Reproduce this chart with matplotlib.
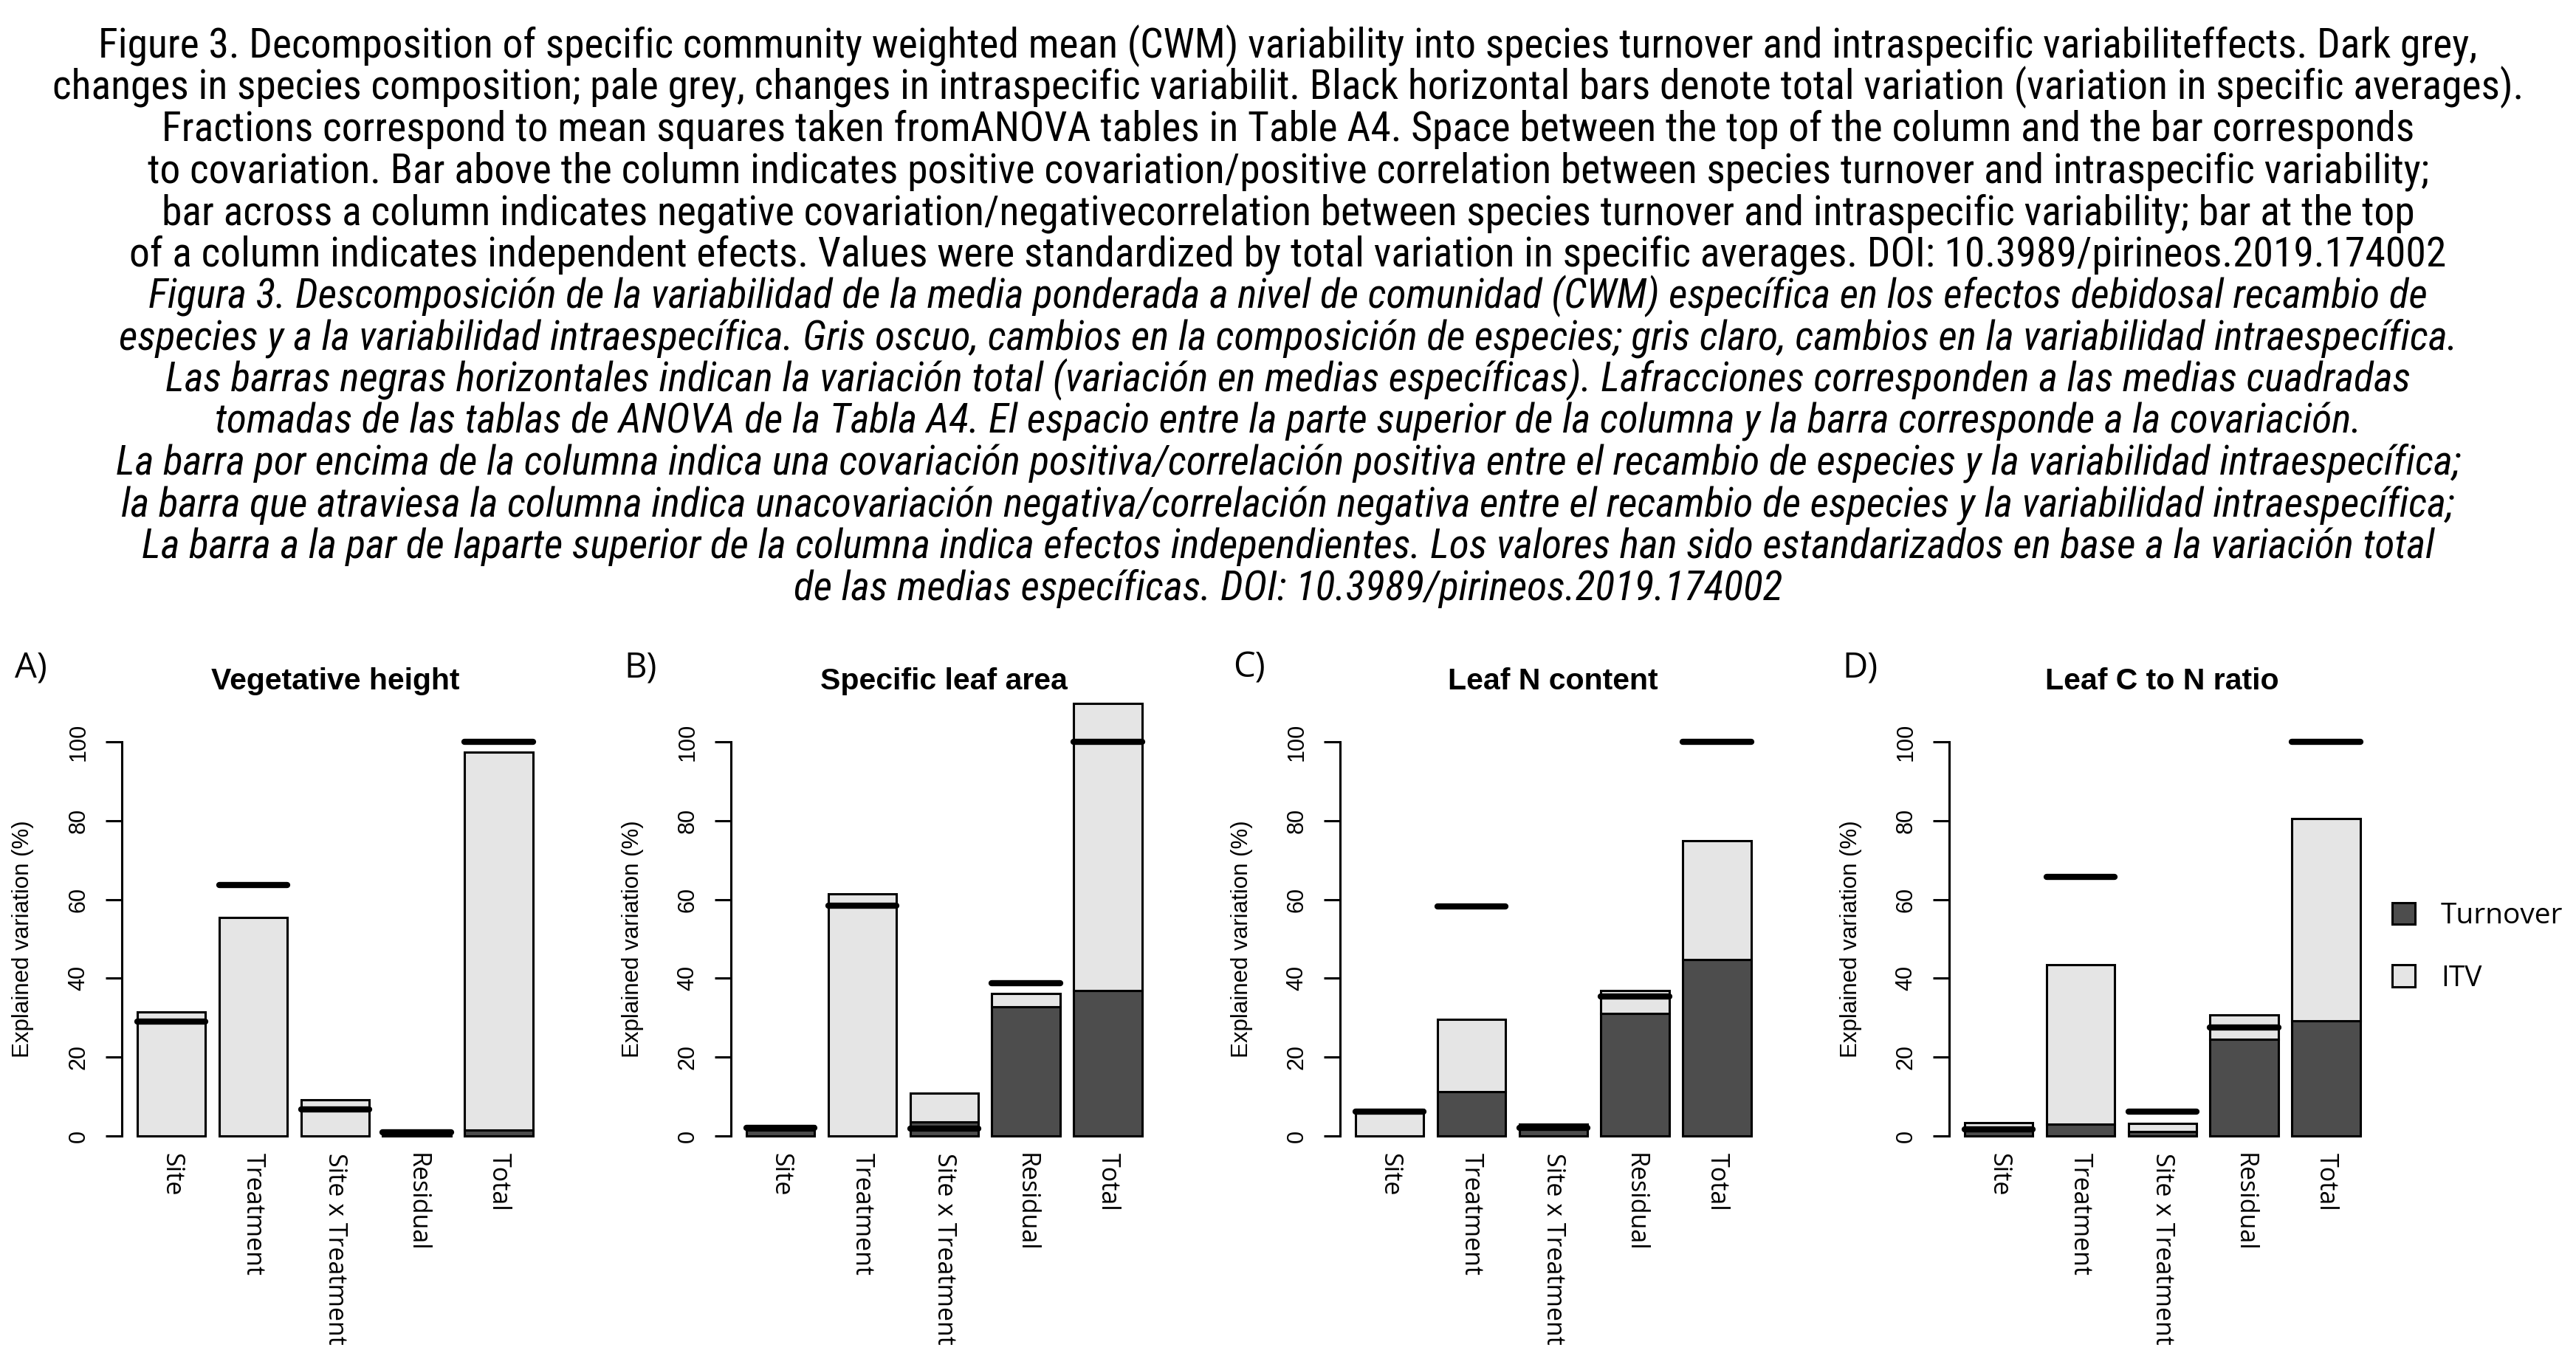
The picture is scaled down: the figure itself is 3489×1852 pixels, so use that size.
import numpy as np
import matplotlib
matplotlib.use("Agg")
import matplotlib.pyplot as plt
from matplotlib.patches import Patch
from matplotlib import font_manager as fm

W, H, DPI = 3489, 1852, 100

# ── DATA (% of total variation) ──────────────────────────────
categories = ["Site", "Treatment", "Site x Treatment", "Residual", "Total"]
titles = ["Vegetative height", "Specific leaf area", "Leaf N content", "Leaf C to N ratio"]
letters = ["A)", "B)", "C)", "D)"]

height_turnover = [0.0, 0.0, 0.0, 0.8, 1.5]
height_itv      = [31.5, 55.5, 9.1, 0.5, 95.8]
height_total    = [29.0, 63.7, 6.7, 1.0, 100.0]

sla_turnover = [1.5, 0.0, 3.5, 32.8, 36.8]
sla_itv      = [1.1, 61.5, 7.4, 3.3, 72.9]
sla_total    = [2.0, 58.5, 1.8, 38.7, 100.0]

leafn_turnover = [0.0, 11.2, 1.8, 31.0, 44.7]
leafn_itv      = [6.7, 18.4, 1.2, 5.9, 30.1]
leafn_total    = [6.2, 58.3, 2.0, 35.4, 100.0]

cn_turnover = [1.3, 3.0, 1.2, 24.5, 29.2]
cn_itv      = [2.0, 40.4, 2.0, 6.3, 51.3]
cn_total    = [1.6, 65.7, 6.2, 27.5, 100.0]

panels = [
    (height_turnover, height_itv, height_total),
    (sla_turnover, sla_itv, sla_total),
    (leafn_turnover, leafn_itv, leafn_total),
    (cn_turnover, cn_itv, cn_total),
]

caption = [
    "Figure 3. Decomposition of specific community weighted mean (CWM) variability into species turnover and intraspecific variabiliteffects. Dark grey,",
    "changes in species composition; pale grey, changes in intraspecific variabilit. Black horizontal bars denote total variation (variation in specific averages).",
    "Fractions correspond to mean squares taken fromANOVA tables in Table A4. Space between the top of the column and the bar corresponds",
    "to covariation. Bar above the column indicates positive covariation/positive correlation between species turnover and intraspecific variability;",
    "bar across a column indicates negative covariation/negativecorrelation between species turnover and intraspecific variability; bar at the top",
    "of a column indicates independent efects. Values were standardized by total variation in specific averages. DOI: 10.3989/pirineos.2019.174002",
    "Figura 3. Descomposición de la variabilidad de la media ponderada a nivel de comunidad (CWM) específica en los efectos debidosal recambio de",
    "especies y a la variabilidad intraespecífica. Gris oscuo, cambios en la composición de especies; gris claro, cambios en la variabilidad intraespecífica.",
    "Las barras negras horizontales indican la variación total (variación en medias específicas). Lafracciones corresponden a las medias cuadradas",
    "tomadas de las tablas de ANOVA de la Tabla A4. El espacio entre la parte superior de la columna y la barra corresponde a la covariación.",
    "La barra por encima de la columna indica una covariación positiva/correlación positiva entre el recambio de especies y la variabilidad intraespecífica;",
    "la barra que atraviesa la columna indica unacovariación negativa/correlación negativa entre el recambio de especies y la variabilidad intraespecífica;",
    "La barra a la par de laparte superior de la columna indica efectos independientes. Los valores han sido estandarizados en base a la variación total",
    "de las medias específicas. DOI: 10.3989/pirineos.2019.174002",
]

DARK = "#4d4d4d"    # grey30
LIGHT = "#e5e5e5"   # grey90

# narrow font for the caption if one is around
names = {f.name for f in fm.fontManager.ttflist}
cap_font = next((n for n in ["Liberation Sans Narrow", "Roboto Condensed",
                             "Open Sans Condensed", "DejaVu Sans Condensed"]
                 if n in names), "Liberation Sans")


def px_rect(left, top, width, height):
    return [left / W, 1 - (top + height) / H, width / W, height / H]


fig = plt.figure(figsize=(W / DPI, H / DPI), dpi=DPI)

# ── CAPTION ──────────────────────────────────────────────────
cap_texts = []
for k, line in enumerate(caption):
    t = fig.text(0.5, 1 - (78 + 56.5 * k) / H, line, ha="center", va="baseline",
                 family=cap_font, style="italic" if k >= 6 else "normal",
                 fontsize=34)
    cap_texts.append(t)

# fit caption size to the widest line (line 2 spans ~3347 px)
renderer = fig.canvas.get_renderer()
w2 = cap_texts[1].get_window_extent(renderer).width
fs = 34 * 3347 / w2
for t in cap_texts:
    t.set_fontsize(fs)

# ── PANELS ───────────────────────────────────────────────────
xs = 0.7 + 1.2 * np.arange(len(categories))

for i, (turn, itv, tot) in enumerate(panels):
    off = 825 * i
    ax = fig.add_axes(px_rect(164.5 + off, 928, 578.5, 634.5))

    ax.bar(xs, turn, width=1, color=DARK, edgecolor="black", linewidth=2.2)
    ax.bar(xs, itv, bottom=turn, width=1, color=LIGHT, edgecolor="black", linewidth=2.2)
    ax.hlines(tot, xs - 0.5, xs + 0.5, colors="black", linewidth=6, capstyle="round")

    ax.set_xlim(-0.032, 6.232)
    ax.set_ylim(-4.4, 114.4)
    for s in ["top", "right", "bottom"]:
        ax.spines[s].set_visible(False)
    ax.spines["left"].set_bounds(0, 100)
    ax.spines["left"].set_linewidth(2.2)

    ax.set_yticks(range(0, 101, 20))
    ax.tick_params(axis="y", direction="out", length=16, width=2.2, labelsize=22, pad=15)
    for lab in ax.get_yticklabels():
        lab.set_rotation(90)
        lab.set_va("center")
        lab.set_family("Liberation Sans")

    ax.set_xticks(xs, categories, rotation=-90, family="Open Sans", fontsize=24.5)
    ax.tick_params(axis="x", length=0, pad=0)

    ax.set_ylabel("Explained variation (%)", family="Liberation Sans", fontsize=22.5)
    ax.yaxis.set_label_coords(-118 / 578.5, (50 + 4.4) / 118.8)

    ax.text(0.5, 1.008, titles[i], transform=ax.transAxes, ha="center", va="center",
            family="Liberation Sans", weight="bold", fontsize=29.5)
    fig.text((20 + off) / W, 1 - 905 / H, letters[i], ha="left", va="center",
             family="Open Sans", fontsize=34)

# ── LEGEND ───────────────────────────────────────────────────
handles = [Patch(facecolor=DARK, edgecolor="black", linewidth=2.2, label="Turnover"),
           Patch(facecolor=LIGHT, edgecolor="black", linewidth=2.2, label="ITV")]
fig.legend(handles=handles, loc="upper left", bbox_to_anchor=(3240 / W, 1 - 1222 / H),
           frameon=False, prop={"family": "Open Sans", "size": 28},
           handlelength=0.8, handleheight=0.8, handletextpad=0.9,
           labelspacing=1.2, borderaxespad=0, borderpad=0)

fig.savefig("out.png", dpi=DPI)
